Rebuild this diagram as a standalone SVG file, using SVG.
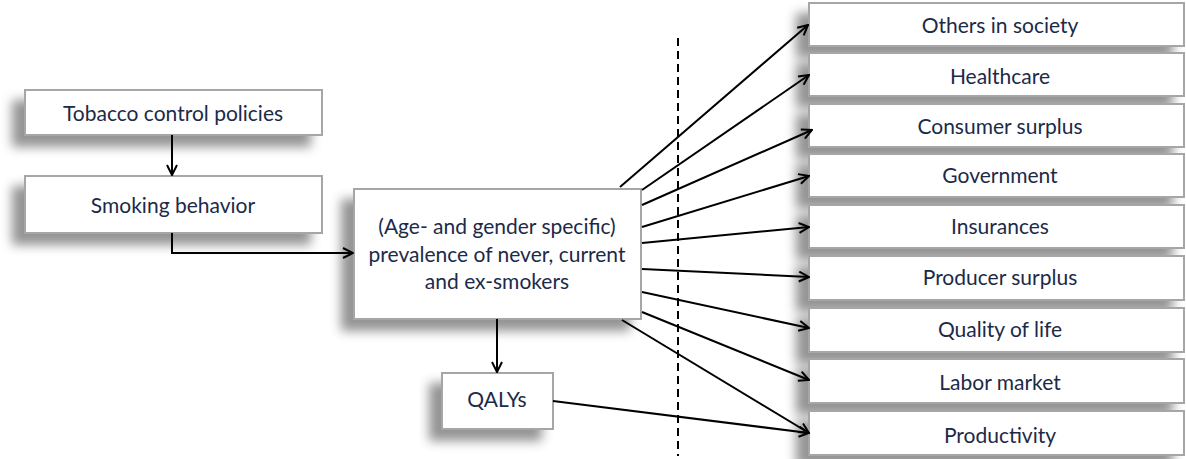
<svg xmlns="http://www.w3.org/2000/svg" width="1186" height="459" viewBox="0 0 1186 459">
<style>
.box{fill:#ffffff;stroke:#a6a6a6;stroke-width:2;filter:url(#sh)}
.t{font-family:Lato,"Open Sans",sans-serif;font-size:21px;fill:#1c2a48;text-anchor:middle}
.c{fill:none;stroke:#000;stroke-width:2}
.a{marker-end:url(#ah)}
</style>
<defs>
<filter id="sh" x="-20%" y="-30%" width="140%" height="180%">
<feDropShadow dx="-12" dy="11" stdDeviation="5.5" flood-color="#000" flood-opacity="0.42"/>
</filter>
<marker id="ah" viewBox="0 0 12 12" refX="11" refY="6" markerWidth="12" markerHeight="12" markerUnits="userSpaceOnUse" orient="auto">
<path d="M1,1 L11,6 L1,11" fill="none" stroke="#000" stroke-width="2"/>
</marker>
</defs>
<g id="tobacco"><rect class="box" x="25" y="90" width="297" height="45"/><text class="t" x="173" y="121">Tobacco control policies</text></g>
<g id="smoking"><rect class="box" x="25" y="176" width="297" height="57"/><text class="t" x="173" y="213">Smoking behavior</text></g>
<g id="prevalence"><rect class="box" x="354" y="189" width="287" height="130"/>
<text class="t" x="497" y="234">(Age- and gender specific)</text>
<text class="t" x="497" y="262">prevalence of never, current</text>
<text class="t" x="497" y="289">and ex-smokers</text></g>
<g id="qalys"><rect class="box" x="442" y="373" width="111" height="56"/><text class="t" x="497" y="407">QALYs</text></g>
<g id="others"><rect class="box" x="809" y="3" width="375" height="43"/><text class="t" x="1000" y="33">Others in society</text></g>
<g id="healthcare"><rect class="box" x="809" y="53" width="375" height="43"/><text class="t" x="1000" y="84">Healthcare</text></g>
<g id="consumer"><rect class="box" x="809" y="104" width="375" height="43"/><text class="t" x="1000" y="134">Consumer surplus</text></g>
<g id="government"><rect class="box" x="809" y="154" width="375" height="43"/><text class="t" x="1000" y="183">Government</text></g>
<g id="insurances"><rect class="box" x="809" y="205" width="375" height="43"/><text class="t" x="1000" y="234">Insurances</text></g>
<g id="producer"><rect class="box" x="809" y="256" width="375" height="44"/><text class="t" x="1000" y="285">Producer surplus</text></g>
<g id="quality"><rect class="box" x="809" y="308" width="375" height="44"/><text class="t" x="1000" y="337">Quality of life</text></g>
<g id="labor"><rect class="box" x="809" y="359" width="375" height="44"/><text class="t" x="1000" y="390">Labor market</text></g>
<g id="productivity"><rect class="box" x="809" y="411" width="375" height="44"/><text class="t" x="1000" y="443">Productivity</text></g>
<g id="connectors">
<line class="c" x1="678" y1="38" x2="678" y2="456" stroke-dasharray="8,5"/>
<path class="c a" d="M172,135 L172,175"/>
<path class="c a" d="M172,233 L172,253 L353,253"/>
<path class="c a" d="M497,319 L497,372"/>
<path class="c a" d="M620,187 L808,25"/>
<path class="c a" d="M642,190 L809,75"/>
<path class="c a" d="M642,205 L812,130"/>
<path class="c a" d="M642,227 L809,176"/>
<path class="c a" d="M642,243 L809,227"/>
<path class="c a" d="M642,269 L809,277"/>
<path class="c a" d="M642,292 L809,328"/>
<path class="c a" d="M642,312 L809,380"/>
<path class="c a" d="M622,320 L809,433"/>
<path class="c a" d="M553,401 L809,433"/>
</g>
</svg>
